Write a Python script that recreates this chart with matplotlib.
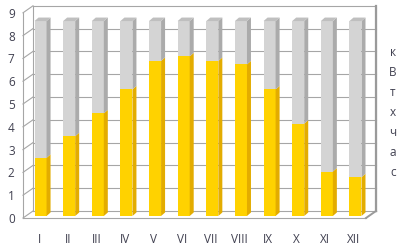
import numpy as np
import matplotlib
matplotlib.use("Agg")
import matplotlib.pyplot as plt
from matplotlib.patches import Polygon
from matplotlib.transforms import offset_copy, IdentityTransform

plt.rcParams['font.family'] = ['Open Sans', 'DejaVu Sans']

months = ['I', 'II', 'III', 'IV', 'V', 'VI', 'VII', 'VIII', 'IX', 'X', 'XI', 'XII']
yellow = [2.55, 3.5, 4.5, 5.55, 6.8, 7.0, 6.8, 6.65, 5.55, 4.05, 1.95, 1.7]
gray = [6.0, 5.05, 4.05, 3.0, 1.75, 1.55, 1.75, 1.9, 3.0, 4.5, 6.6, 6.85]
unit = 'кВтхчас'

txt_col = '#404050'
line_col = '#a6a6a6'

fig = plt.figure(figsize=(4.03, 2.46), dpi=100)
ax = fig.add_axes([23/403, 28/246, 343/403, 205.2/246])
x0, x1 = -0.56, 11.42
ax.set_xlim(x0, x1)
ax.set_ylim(0, 9)
for s in ax.spines.values():
    s.set_visible(False)
ax.patch.set_visible(False)

ax.set_yticks(range(10))
ax.set_xticks(range(12), labels=months)
ax.tick_params(axis='y', length=0, pad=6, labelsize=8.5, labelcolor=txt_col)
ax.tick_params(axis='x', length=0, pad=11, labelsize=8.5, labelcolor=txt_col)

# back wall is shifted up/right (fake 3d)
back = offset_copy(ax.transData, fig=fig, x=10, y=7, units='dots')

def disp(x, y, tr=None, dx=0, dy=0):
    tr = tr or ax.transData
    p = tr.transform((x, y))
    return p[0] + dx, p[1] + dy

def seg(a, b, **kw):
    ax.plot([a[0], b[0]], [a[1], b[1]], transform=IdentityTransform(),
            clip_on=False, **kw)

# gridlines on back wall + left wall
for v in range(1, 9):
    ax.plot([x0, x1], [v, v], transform=back, color=line_col, lw=0.8, clip_on=False, zorder=0)
    seg(disp(x0, v), disp(x0, v, back), color=line_col, lw=0.8, zorder=0)

# wall outline
ax.plot([x0, x1, x1], [9, 9, 0], transform=back, color=line_col, lw=0.8, clip_on=False, zorder=0)
ax.plot([x1, x1], [0, 9], transform=back, color='#9a9a9a', lw=1.6, clip_on=False, zorder=0)
ax.plot([x0, x0], [0, 9], transform=back, color=line_col, lw=0.8, clip_on=False, zorder=0)
ax.plot([x0, x1], [0, 0], transform=back, color=line_col, lw=0.8, clip_on=False, zorder=0)
ax.plot([x0, x0], [0, 9], color=line_col, lw=0.8, clip_on=False, zorder=0)
ax.plot([x0, x1], [0, 0], color=line_col, lw=0.8, clip_on=False, zorder=0)
seg(disp(x0, 9), disp(x0, 9, back), color=line_col, lw=0.8, zorder=0)
seg(disp(x0, 0), disp(x0, 0, back), color=line_col, lw=0.8, zorder=0)
seg(disp(x1, 0), disp(x1, 0, back), color='#9a9a9a', lw=1.4, zorder=0)

# bars
bar_tr = offset_copy(ax.transData, fig=fig, x=1.5, y=2, units='dots')
w = 0.42
x = np.arange(len(months))
ax.bar(x, yellow, width=w, color='#ffd200', transform=bar_tr, zorder=2)
ax.bar(x, gray, width=w, bottom=yellow, color='#d4d4d4', transform=bar_tr, zorder=2)

d = (4, 3.5)
for i in range(len(months)):
    xr = x[i] + w / 2
    xl = x[i] - w / 2
    tot = yellow[i] + gray[i]
    for lo, hi, c in [(0, yellow[i], '#e3ac00'), (yellow[i], tot, '#ababab')]:
        a = disp(xr, lo, bar_tr)
        b = disp(xr, hi, bar_tr)
        ax.add_patch(Polygon([a, b, (b[0] + d[0], b[1] + d[1]), (a[0] + d[0], a[1] + d[1])],
                             closed=True, transform=IdentityTransform(), facecolor=c,
                             edgecolor='none', clip_on=False, zorder=3))
    a = disp(xl, tot, bar_tr)
    b = disp(xr, tot, bar_tr)
    ax.add_patch(Polygon([a, b, (b[0] + d[0], b[1] + d[1]), (a[0] + d[0], a[1] + d[1])],
                         closed=True, transform=IdentityTransform(), facecolor='#bfbfbf',
                         edgecolor='none', clip_on=False, zorder=3))

fig.text(393/403, 1 - 113/246, '\n'.join(unit), ha='center', va='center',
         fontsize=8.5, color=txt_col, linespacing=1.7)

fig.savefig('out.png', dpi=100)
